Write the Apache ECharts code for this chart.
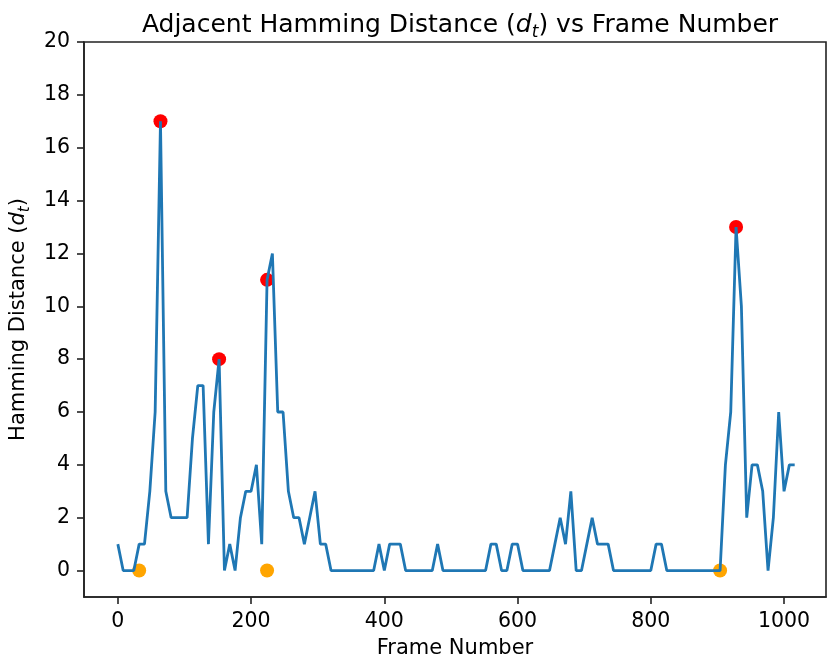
<!DOCTYPE html>
<html>
<head>
<meta charset="utf-8">
<script src="https://cdn.jsdelivr.net/npm/echarts@6/dist/echarts.min.js"></script>
<style>
html,body{margin:0;padding:0;background:#fff;}
#chart{width:828px;height:665px;}
</style>
</head>
<body>
<div id="chart"></div>
<script>
const frames = [0,8,16,24,32,40,48,56,64,72,80,88,96,104,112,120,128,136,144,152,160,168,176,184,192,200,208,216,224,232,240,248,256,264,272,280,288,296,304,312,320,328,336,344,352,360,368,376,384,392,400,408,416,424,432,440,448,456,464,472,480,488,496,504,512,520,528,536,544,552,560,568,576,584,592,600,608,616,624,632,640,648,656,664,672,680,688,696,704,712,720,728,736,744,752,760,768,776,784,792,800,808,816,824,832,840,848,856,864,872,880,888,896,904,912,920,928,936,944,952,960,968,976,984,992,1000,1008,1016];
const hamming = [1,0,0,0,1,1,3,6,17,3,2,2,2,2,5,7,7,1,6,8,0,1,0,2,3,3,4,1,11,12,6,6,3,2,2,1,2,3,1,1,0,0,0,0,0,0,0,0,0,1,0,1,1,1,0,0,0,0,0,0,1,0,0,0,0,0,0,0,0,0,1,1,0,0,1,1,0,0,0,0,0,0,1,2,1,3,0,0,1,2,1,1,1,0,0,0,0,0,0,0,0,1,1,0,0,0,0,0,0,0,0,0,0,0,4,6,13,10,2,4,4,3,0,2,6,3,4,4];
const redFrames = [64,152,224,928];
const redValues = [17,8,11,13];
const orangeFrames = [32,224,904];
const orangeValues = [0,0,0];
const xTicks = [0,200,400,600,800,1000];
const yTicks = [0,2,4,6,8,10,12,14,16,18,20];

const font = 'DejaVu Sans';
const zip = (a,b) => a.map((v,i)=>[v,b[i]]);

const chart = echarts.init(document.getElementById('chart'), null, {renderer:'canvas'});
chart.setOption({
  animation:false,
  backgroundColor:'#fff',
  title:{
    text:'Adjacent Hamming Distance ({i|d}{s|t}) vs Frame Number',
    left:455, top:4, textAlign:'center',
    textStyle:{fontFamily:font,fontSize:25,fontWeight:'normal',color:'#000',lineHeight:32,
      rich:{
        i:{fontFamily:font,fontSize:25,fontStyle:'italic',color:'#000',lineHeight:32},
        s:{fontFamily:font,fontSize:17,fontStyle:'italic',color:'#000',verticalAlign:'bottom',lineHeight:32}
      }}
  },
  grid:{left:84,right:2,top:42,bottom:68,show:true,borderColor:'#222',borderWidth:1.6,
    backgroundColor:'transparent',containLabel:false,outerBoundsMode:'none'},
  xAxis:{
    type:'value',min:-50.8,max:1063,
    name:'Frame Number',nameLocation:'middle',nameGap:41,
    nameTextStyle:{fontFamily:font,fontSize:21,color:'#000'},
    axisLine:{show:true,onZero:false,lineStyle:{color:'#222',width:1.6}},
    axisTick:{show:true,length:7,lineStyle:{color:'#222',width:1.6},customValues:xTicks},
    axisLabel:{fontFamily:font,fontSize:20.5,color:'#000',margin:14,customValues:xTicks,
      formatter:v=>String(v)},
    splitLine:{show:false}
  },
  yAxis:{
    type:'value',min:-1,max:20,
    name:'Hamming Distance ({i|d}{s|t})',nameLocation:'middle',nameGap:46,nameRotate:90,
    nameTextStyle:{fontFamily:font,fontSize:21,color:'#000',lineHeight:28,
      rich:{
        i:{fontFamily:font,fontSize:21,fontStyle:'italic',color:'#000',lineHeight:28},
        s:{fontFamily:font,fontSize:15,fontStyle:'italic',color:'#000',verticalAlign:'bottom',lineHeight:28}
      }},
    axisLine:{show:true,onZero:false,lineStyle:{color:'#222',width:1.6}},
    axisTick:{show:true,length:7,lineStyle:{color:'#222',width:1.6},customValues:yTicks},
    axisLabel:{fontFamily:font,fontSize:20.5,color:'#000',margin:14,customValues:yTicks,
      formatter:v=>String(v)},
    splitLine:{show:false}
  },
  series:[
    {type:'scatter',data:zip(redFrames,redValues),symbol:'circle',symbolSize:14,
     itemStyle:{color:'#ff0000',opacity:1},z:1,silent:true},
    {type:'scatter',data:zip(orangeFrames,orangeValues),symbol:'circle',symbolSize:14,
     itemStyle:{color:'#ffa500',opacity:1},z:1,silent:true},
    {type:'line',data:zip(frames,hamming),showSymbol:false,symbol:'none',
     lineStyle:{color:'#1f77b4',width:2.8},z:3,silent:true}
  ]
});
</script>
</body>
</html>
